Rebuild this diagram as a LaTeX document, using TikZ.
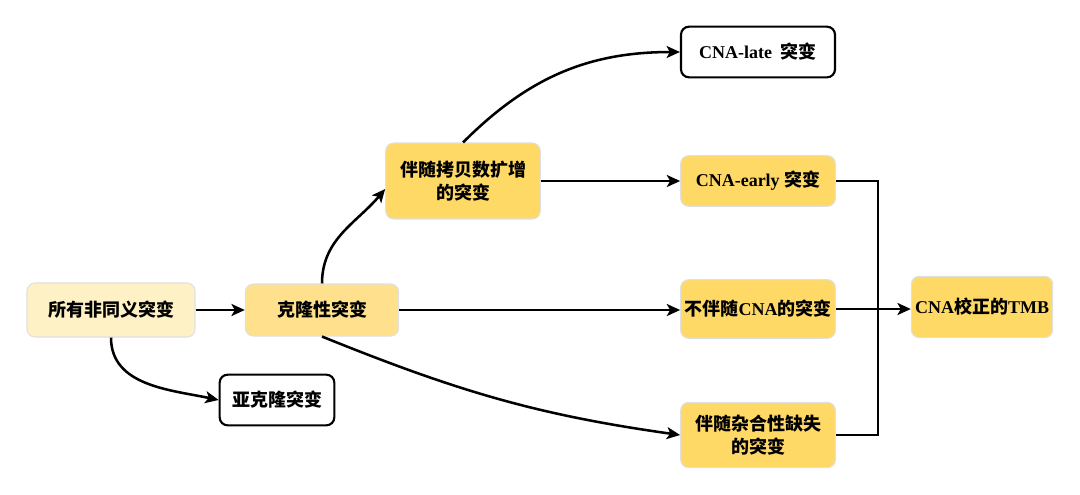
\documentclass[tikz,border=0pt]{standalone}
\usepackage{fontspec}
\setmainfont{Liberation Serif}
\newfontfamily\cjk{Noto Sans CJK SC}
\usetikzlibrary{arrows.meta}
\definecolor{ylA}{HTML}{FFF1C6}
\definecolor{ylB}{HTML}{FFE08C}
\definecolor{ylC}{HTML}{FFD966}
\newcommand{\zh}[1]{{\cjk\bfseries #1}}
\begin{document}
\begin{tikzpicture}[x=0.75pt,y=-0.75pt,
  box/.style={rounded corners=6pt,align=center,inner sep=2pt,font=\bfseries\fontsize{13.5}{16}\selectfont},
  ybox/.style={box,draw=black!12,line width=0.8pt},
  wbox/.style={box,draw=black,fill=white,line width=1.6pt},
  conn/.style={line width=1.9pt,draw=black},
  arr/.style={conn,-{Stealth[length=10pt,width=9pt,inset=2.5pt]}}]
\useasboundingbox[fill=white] (0,0) rectangle (1080,494);

\node[ybox,fill=ylA,minimum width=126pt,minimum height=40.5pt] (A) at (111,310) {\zh{所有非同义突变}};
\node[ybox,fill=ylB,minimum width=115pt,minimum height=39pt] (B) at (322,310) {\zh{克隆性突变}};
\node[wbox,minimum width=86pt,minimum height=38pt] (C) at (277,400) {\zh{亚克隆突变}};
\node[ybox,fill=ylC,minimum width=116pt,minimum height=57pt] (D) at (463,181) {\zh{伴随拷贝数扩增}\\[1pt]\zh{的突变}};
\node[wbox,minimum width=115.5pt,minimum height=38pt] (E) at (758,52) {CNA-late \zh{ 突变}};
\node[ybox,fill=ylC,minimum width=116pt,minimum height=38pt] (F) at (758,181) {CNA-early \zh{突变}};
\node[ybox,fill=ylC,minimum width=116pt,minimum height=44pt] (G) at (758,309) {\zh{不伴随}CNA\zh{的突变}};
\node[ybox,fill=ylC,minimum width=116pt,minimum height=49pt] (H) at (758,435) {\zh{伴随杂合性缺失}\\[1pt]\zh{的突变}};
\node[ybox,fill=ylC,minimum width=106pt,minimum height=46pt] (I) at (982,307) {CNA\zh{校正的}TMB};

\coordinate (j) at (878,308);

\draw[arr] (A.east) -- (B.west);
\draw[arr] (A.south) to[out=-90,in=168] (C.west);
\draw[arr] (B.north) to[out=90,in=-130] ([yshift=-6pt]D.west);
\draw[arr] (B.east) -- (B.east-|G.west);
\draw[arr] (B.south) to[out=-22,in=172] (H.west);
\draw[arr] (D.north) to[out=45,in=180] (E.west);
\draw[arr] (D.east) -- (F.west);
\draw[conn] (F.east) -| (j) |- (H.east);
\draw[arr] (G.east) -- (G.east-|I.west);
\end{tikzpicture}
\end{document}
